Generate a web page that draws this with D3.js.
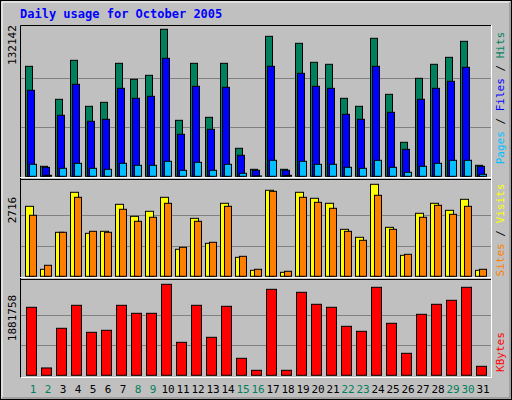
<!DOCTYPE html><html><head><meta charset="utf-8"><script src="https://d3js.org/d3.v7.min.js"></script>
<style>body{margin:0;background:#fff}text{font-family:"DejaVu Sans Mono",monospace}</style></head><body>
<svg id="c" width="512" height="400"></svg>
<script>
const days=d3.range(1,32).map(String);
const weekend=["1","2","8","9","15","16","22","23","29","30"];
const hits=[98870,8990,69210,104260,62920,66510,101570,87190,90780,132142,50330,101570,53030,101570,25170,6290,125830,6290,119540,102460,100670,70110,62920,124030,73700,30560,88080,100670,106960,121340,9890];
const files=[77300,8090,54830,82690,49430,51230,79090,70110,71900,106060,37750,80890,42240,79990,18870,5390,98870,5390,92580,80890,79090,55730,51230,98870,57520,24270,69210,79090,85390,97970,8990];
const pages=[10790,900,7190,11680,7190,6290,11680,9890,9890,13480,5390,12580,5390,10790,2700,300,14380,900,13480,10790,10790,8090,7190,14380,8090,3600,8990,11680,14380,14380,1800];
const visits=[2066,207,1299,2480,1269,1328,2125,1771,1919,2332,797,1712,974,2155,561,177,2539,118,2480,2303,2155,1387,1151,2716,1446,620,1860,2155,1948,2273,177];
const sites=[1801,325,1299,2332,1328,1299,1978,1624,1742,2155,856,1624,1004,2066,590,207,2509,148,2332,2184,2007,1328,1063,2391,1387,649,1742,2096,1830,2066,207];
const kbytes=[1406170,151650,971910,1447530,889200,930560,1447530,1282100,1282100,1881758,682410,1447530,785800,1426850,351540,103400,1778390,103400,1716360,1468210,1406170,1013270,909880,1819750,1075310,454940,1261420,1468210,1550930,1819750,186110];
const maxes=["132142","2716","1881758"];

const svg=d3.select("#c");
svg.append("rect").attr("x",0.5).attr("y",0.5).attr("width",511).attr("height",399).attr("fill","#c0c0c0").attr("stroke","#000");
svg.append("path").attr("d","M2,398V2H510").attr("stroke","#fff").attr("fill","none");
svg.append("path").attr("d","M2,398H510V2").attr("stroke","#808080").attr("fill","none");
svg.append("text").attr("x",20).attr("y",18).attr("fill","#0000ff").attr("font-weight","bold").attr("font-size",12).text("Daily usage for October 2005");

const x=d3.scaleBand().domain(days).range([25,490]).paddingInner(0).paddingOuter(0);
// frame
svg.append("path").attr("d","M20.5,378V25.5H491").attr("stroke","#000").attr("fill","none");
svg.append("path").attr("d","M20.5,377.5H491.5V25").attr("stroke","#fff").attr("fill","none");
[[177.5,179.5],[277.5,279.5]].forEach(([a,b])=>{
 svg.append("line").attr("x1",20).attr("x2",491).attr("y1",a).attr("y2",a).attr("stroke","#fff");
 svg.append("line").attr("x1",20).attr("x2",491).attr("y1",b).attr("y2",b).attr("stroke","#000");
});
const panels=[
 {y0:176.3,top:29.3,max:132142,series:[[hits,0,7,"#00805c"],[files,2,7,"#0000ff"],[pages,4,7,"#00c0ff"]],lab:45},
 {y0:276.3,top:184.3,max:2716,series:[[visits,0,8,"#ffff00"],[sites,4,7,"#ff8000"]],lab:210},
 {y0:375.3,top:284.3,max:1881758,series:[[kbytes,1,10,"#ff0000"]],lab:318}
];
panels.forEach((p,i)=>{
 const y=d3.scaleLinear().domain([0,p.max]).range([p.y0,p.top]);
 [1/3,2/3].forEach(f=>svg.append("line").attr("x1",21).attr("x2",491).attr("y1",Math.round(y(p.max*f))+0.5).attr("y2",Math.round(y(p.max*f))+0.5).attr("stroke","#808080"));
 p.series.forEach(([vals,off,w,col])=>{
  svg.append("g").selectAll("rect").data(vals).join("rect")
   .attr("x",(d,j)=>x(days[j])+off+0.5).attr("y",d=>y(d)).attr("width",w).attr("height",d=>p.y0-y(d))
   .attr("fill",col).attr("stroke","#000").attr("stroke-width",1);
 });
 svg.append("text").attr("transform",`translate(16,${p.lab}) rotate(-90)`).attr("text-anchor","middle").attr("font-size",11).attr("fill","#000").text(maxes[i]);
});
// right labels
function rlab(y,parts){const t=svg.append("text").attr("transform",`translate(504,${y}) rotate(-90)`).attr("font-size",11).attr("text-anchor","middle");
 parts.forEach(([s,c])=>t.append("tspan").attr("fill",c).text(s));}
rlab(98,[["Pages","#00c0ff"],[" / ","#000"],["Files","#0000ff"],[" / ","#000"],["Hits","#00805c"]]);
rlab(230,[["Sites","#ff8000"],[" / ","#000"],["Visits","#ffff00"]]);
rlab(352,[["KBytes","#ff0000"]]);
svg.append("g").selectAll("text").data(days).join("text").attr("x",d=>x(d)+8).attr("y",393).attr("text-anchor","middle").attr("font-size",11)
 .attr("fill",d=>weekend.includes(d)?"#00805c":"#000").text(d=>d);
</script></body></html>
